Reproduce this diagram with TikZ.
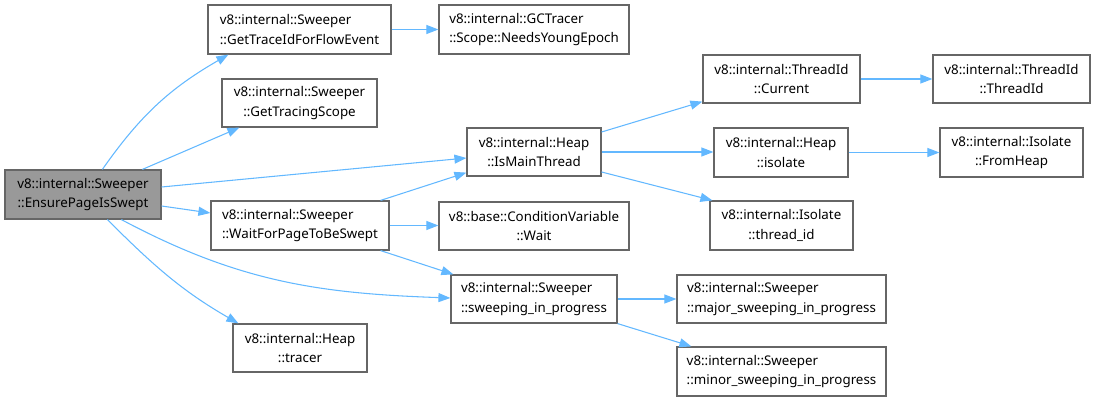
\documentclass[tikz,border=0pt]{standalone}
\usepackage{fontspec}
\setmainfont{Noto Sans}
\usetikzlibrary{arrows.meta,calc}
\definecolor{edgeblue}{HTML}{63B8FF}
\definecolor{boxgray}{HTML}{666666}
\definecolor{mainfill}{HTML}{999999}
\begin{document}
\begin{tikzpicture}[x=0.75pt,y=-0.75pt,
  fn/.style={draw=boxgray,line width=0.9pt,fill=white,inner sep=0pt,
    font=\fontsize{10}{14.5}\selectfont,align=center},
  fnl/.style={fn,align=left},
  mainfn/.style={fn,fill=mainfill},
  call/.style={draw=edgeblue,line width=0.8pt,-{Triangle[length=9pt,width=6.75pt]}}]
\useasboundingbox (0,0) rectangle (1095,402);
% nodes
\node[mainfn,minimum width=117pt,minimum height=36.75pt] (ens) at (83,194.5) {v8::internal::Sweeper\\::EnsurePageIsSwept};
\node[fnl,minimum width=137.25pt,minimum height=36.75pt] (gtid) at (299.5,29.5) {v8::internal::Sweeper\\::GetTraceIdForFlowEvent};
\node[fn,minimum width=116.25pt,minimum height=36pt] (gts) at (299.5,103) {v8::internal::Sweeper\\::GetTracingScope};
\node[fnl,minimum width=133.5pt,minimum height=36.75pt] (wait) at (300,225.5) {v8::internal::Sweeper\\::WaitForPageToBeSwept};
\node[fn,minimum width=100.5pt,minimum height=36pt] (tracer) at (300,348) {v8::internal::Heap\\::tracer};
\node[fnl,minimum width=142.5pt,minimum height=36.75pt] (gct) at (534,29.5) {v8::internal::GCTracer\\::Scope::NeedsYoungEpoch};
\node[fn,minimum width=100.5pt,minimum height=36pt] (ismain) at (534,152) {v8::internal::Heap\\::IsMainThread};
\node[fn,minimum width=142.5pt,minimum height=36pt] (cvw) at (534,226) {v8::base::ConditionVariable\\::Wait};
\node[fnl,minimum width=124.5pt,minimum height=36pt] (swp) at (534,299) {v8::internal::Sweeper\\::sweeping\_in\_progress};
\node[fn,minimum width=117.75pt,minimum height=36pt] (cur) at (781.5,79) {v8::internal::ThreadId\\::Current};
\node[fn,minimum width=117.75pt,minimum height=36pt] (tid) at (1011.5,79) {v8::internal::ThreadId\\::ThreadId};
\node[fn,minimum width=100.5pt,minimum height=36.75pt] (iso) at (781,152.5) {v8::internal::Heap\\::isolate};
\node[fn,minimum width=107.25pt,minimum height=36.75pt] (fh) at (1011.5,152.5) {v8::internal::Isolate\\::FromHeap};
\node[fn,minimum width=107.25pt,minimum height=36.75pt] (thid) at (781.5,225.5) {v8::internal::Isolate\\::thread\_id};
\node[fnl,minimum width=156.75pt,minimum height=36pt] (maj) at (781.5,299) {v8::internal::Sweeper\\::major\_sweeping\_in\_progress};
\node[fnl,minimum width=156.75pt,minimum height=36.75pt] (mnr) at (781.5,371.5) {v8::internal::Sweeper\\::minor\_sweeping\_in\_progress};
% edges
\draw[call] ($(ens.north west)+(98,0)$) to[out=55,in=210] ($(gtid.south west)+(21,0)$);
\draw[call] ($(ens.north west)+(138,0)$) -- ($(gts.south west)+(18,0)$);
\draw[call] ($(ens.east)+(0,-7.5)$) -- ($(ismain.west)+(0,6)$);
\draw[call] ($(ens.east)+(0,11.5)$) -- ($(wait.west)+(0,-12.5)$);
\draw[call] ($(ens.south west)+(117,0)$) to[out=-28,in=178] ($(swp.west)+(0,-1)$);
\draw[call] ($(ens.south west)+(103,0)$) to[out=-45,in=150] ($(tracer.north west)+(6,0)$);
\draw[call] (gtid.east) -- (gct.west);
\draw[call] ($(wait.north east)+(-9,0)$) -- ($(ismain.south west)+(0,-4)$);
\draw[call] (wait.east) -- (wait.east -| cvw.west);
\draw[call] ($(wait.south east)+(-9,0)$) -- ($(swp.north west)+(3,0)$);
\draw[call] ($(ismain.east)+(0,-20)$) -- ($(cur.south west)+(0,-2)$);
\draw[call] (ismain.east) -- (ismain.east -| iso.west);
\draw[call] ($(ismain.east)+(0,20)$) -- ($(thid.north west)+(3,0)$);
\draw[call] (cur.east) -- (tid.west);
\draw[call] (iso.east) -- (fh.west);
\draw[call] (swp.east) -- (swp.east -| maj.west);
\draw[call] (swp.south east) -- ($(mnr.north west)+(15,0)$);
\end{tikzpicture}
\end{document}
